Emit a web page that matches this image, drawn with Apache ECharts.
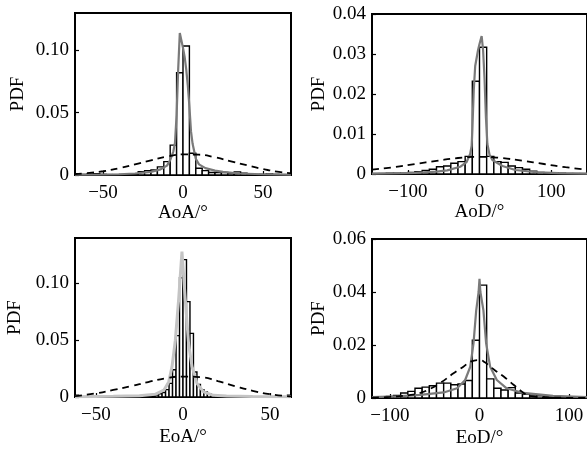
<!DOCTYPE html>
<html>
<head>
<meta charset="utf-8">
<script src="https://cdn.jsdelivr.net/npm/echarts@6/dist/echarts.min.js"></script>
<style>
html,body{margin:0;padding:0;background:#fff;}
#c{width:587px;height:450px;}
</style>
</head>
<body>
<div id="c"></div>
<script>
// ---------- AoA ----------
const aoaBinStart = -68, aoaBinWidth = 4;
const aoaPdf = [0, 0.0005, 0.0008, 0.001, 0.0005, 0.0003, 0.0003, 0.0003, 0.0005, 0.001, 0.0027, 0.0035, 0.004, 0.0065, 0.0107, 0.024, 0.082, 0.1035, 0.0175, 0.0054, 0.0035, 0.002, 0.002, 0.002, 0.0015, 0.0025, 0.0015, 0.0005, 0.0003, 0.0005, 0.0008, 0.0005, 0.0003, 0];
const aoaFitX = [-67.5,-50,-40,-30,-20,-14,-10,-8,-6,-5,-4,-3,-2,-1,0,1,2,3,4,5,6,8,10,14,20,25,35,50,67.5];
const aoaFitY = [0.0002,0.0004,0.0006,0.0012,0.0025,0.0045,0.0075,0.012,0.019,0.026,0.048,0.085,0.114,0.108,0.102,0.095,0.085,0.072,0.055,0.035,0.025,0.013,0.0085,0.0055,0.0035,0.0025,0.0012,0.0006,0.0003];
const aoaGaussX = [-67.5,-60,-50,-40,-30,-20,-10,0,10,20,30,40,50,60,67.5];
const aoaGaussY = [0.0008,0.0015,0.003,0.0055,0.0085,0.0118,0.0148,0.0165,0.0163,0.0142,0.011,0.0078,0.0048,0.0025,0.0014];
const aoaXTicks = [-50, 0, 50];
const aoaYTicks = [0, 0.05, 0.10];

// ---------- AoD ----------
const aodBinStart = -150, aodBinWidth = 10;
const aodPdf = [0.0001, 0.0001, 0.0002, 0.0002, 0.0003, 0.0004, 0.0006, 0.0009, 0.0012, 0.0018, 0.002, 0.0027, 0.0031, 0.0044, 0.0232, 0.0317, 0.0044, 0.0031, 0.0029, 0.002, 0.0016, 0.0012, 0.0007, 0.0004, 0.0003, 0.0002, 0.0002, 0.0001, 0.0001, 0.0001];
const aodFitX = [-150,-110,-90,-60,-45,-27,-18,-13,-11,-10,-8,-6,-4,-2,0,3,5,7,9,11,14,18,32,50,82,110,150];
const aodFitY = [0.0001,0.0002,0.0003,0.0006,0.0009,0.0018,0.003,0.005,0.007,0.011,0.021,0.027,0.029,0.031,0.0325,0.0345,0.031,0.024,0.014,0.0075,0.0048,0.0035,0.002,0.001,0.0004,0.0002,0.0001];
const aodGaussX = [-150,-120,-90,-60,-30,0,30,60,90,120,150];
const aodGaussY = [0.0011,0.0017,0.0025,0.0033,0.004,0.0043,0.004,0.0033,0.0025,0.0017,0.0011];
const aodXTicks = [-100, 0, 100];
const aodYTicks = [0, 0.01, 0.02, 0.03, 0.04];

// ---------- EoA ----------
const eoaBinStart = -62, eoaBinWidth = 2;
const eoaPdf = [0.0015, 0, 0, 0, 0, 0, 0, 0, 0, 0, 0, 0, 0, 0, 0, 0, 0, 0, 0, 0, 0.0003, 0.0005, 0.001, 0.0018, 0.0028, 0.004, 0.0065, 0.012, 0.024, 0.054, 0.105, 0.121, 0.084, 0.056, 0.022, 0.011, 0.0065, 0.0045, 0.003, 0.002, 0.0015, 0.001, 0.0006, 0.0003, 0, 0, 0, 0, 0, 0, 0, 0, 0, 0, 0, 0, 0, 0, 0, 0, 0, 0.0015];
const eoaFitX = [-62,-40,-25,-16,-11,-8.2,-6.3,-4.4,-2.5,-0.6,1.3,3.2,5.2,8,11.8,17.5,25,40,62];
const eoaFitY = [0.0003,0.0006,0.0012,0.0024,0.006,0.0133,0.0267,0.05,0.086,0.128,0.086,0.047,0.0267,0.012,0.0045,0.0015,0.0008,0.0004,0.0002];
const eoaGaussX = [-62,-50,-40,-30,-20,-10,0,10,20,30,40,50,62];
const eoaGaussY = [0.0008,0.0032,0.0062,0.0095,0.0132,0.0165,0.018,0.0175,0.014,0.0095,0.0055,0.0025,0.0006];
const eoaXTicks = [-50, 0, 50];
const eoaYTicks = [0, 0.05, 0.10];

// ---------- EoD ----------
const eodBinStart = -120, eodBinWidth = 8;
const eodPdf = [0.0002, 0.0004, 0.0006, 0.001, 0.0019, 0.0025, 0.0037, 0.0041, 0.0046, 0.0056, 0.0056, 0.005, 0.0053, 0.0066, 0.0218, 0.0426, 0.0072, 0.0037, 0.003, 0.0039, 0.0019, 0.0015, 0.0011, 0.0008, 0.0004, 0.0003, 0.0002, 0.0001, 0.0001, 0.0001];
const eodFitX = [-120,-92,-66,-40,-25,-16,-10.3,-6.7,-3.7,-1,0,1,4.4,7.4,11.9,19.3,30,48.9,82,120];
const eodFitY = [0.0003,0.0006,0.0012,0.0021,0.0037,0.0068,0.0118,0.0206,0.033,0.04,0.045,0.04,0.033,0.0206,0.0118,0.0068,0.0037,0.0019,0.0008,0.0003];
const eodGaussX = [-120,-100,-80,-66,-55,-44,-29,-18,-10,0,6,12,20,27,38,47,53,60,75,120];
const eodGaussY = [0.0001,0.0004,0.001,0.0019,0.0035,0.0056,0.0093,0.0118,0.0137,0.0143,0.0135,0.0118,0.0098,0.0081,0.005,0.0025,0.0012,0.0005,0.0002,0];
const eodXTicks = [-100, 0, 100];
const eodYTicks = [0, 0.02, 0.04, 0.06];

const FONT = '"Liberation Serif", "Times New Roman", serif';
const panels = [
  {name:'AoA/°', start:aoaBinStart, w:aoaBinWidth, pdf:aoaPdf, fx:aoaFitX, fy:aoaFitY, gx:aoaGaussX, gy:aoaGaussY, xt:aoaXTicks, yt:aoaYTicks,
   xmin:-67.5, xmax:67.5, ymax:0.13, grid:{left:75, top:13, width:216, height:162}, fitColor:'#7a7a7a', fitWidth:2.2, yGap:47, xGap:25},
  {name:'AoD/°', start:aodBinStart, w:aodBinWidth, pdf:aodPdf, fx:aodFitX, fy:aodFitY, gx:aodGaussX, gy:aodGaussY, xt:aodXTicks, yt:aodYTicks,
   xmin:-150, xmax:150, ymax:0.04, grid:{left:372, top:14, width:219, height:160}, fitColor:'#7a7a7a', fitWidth:2.2, yGap:40, xGap:25},
  {name:'EoA/°', start:eoaBinStart, w:eoaBinWidth, pdf:eoaPdf, fx:eoaFitX, fy:eoaFitY, gx:eoaGaussX, gy:eoaGaussY, xt:eoaXTicks, yt:eoaYTicks,
   xmin:-62, xmax:62, ymax:0.14, grid:{left:75, top:238, width:216, height:159}, fitColor:'#c4c4c4', fitWidth:3, yGap:50, xGap:31},
  {name:'EoD/°', start:eodBinStart, w:eodBinWidth, pdf:eodPdf, fx:eodFitX, fy:eodFitY, gx:eodGaussX, gy:eodGaussY, xt:eodXTicks, yt:eodYTicks,
   xmin:-120, xmax:120, ymax:0.06, grid:{left:372, top:239, width:216, height:159}, fitColor:'#7a7a7a', fitWidth:2.2, yGap:40, xGap:31}
];

const fmtX = v => v < 0 ? '\u2212' + (-v) : String(v);
const fmtY = v => v === 0 ? '0' : v.toFixed(2);

const grids = [], xAxes = [], yAxes = [], series = [];
panels.forEach((p, i) => {
  grids.push(Object.assign({show:true, borderColor:'#000', borderWidth:2, backgroundColor:'transparent', containLabel:false}, p.grid));
  xAxes.push({
    gridIndex:i, type:'value', min:p.xmin, max:p.xmax,
    axisLine:{show:true, onZero:false, lineStyle:{color:'#000', width:2}},
    axisTick:{show:true, inside:true, length:4, customValues:p.xt, lineStyle:{color:'#000', width:1.2}},
    axisLabel:{customValues:p.xt, formatter:fmtX, color:'#000', fontFamily:FONT, fontSize:19, margin:9},
    splitLine:{show:false},
    name:p.name, nameLocation:'middle', nameGap:p.xGap,
    nameTextStyle:{color:'#000', fontFamily:FONT, fontSize:19}
  });
  yAxes.push({
    gridIndex:i, type:'value', min:0, max:p.ymax,
    axisLine:{show:true, onZero:false, lineStyle:{color:'#000', width:2}},
    axisTick:{show:true, inside:true, length:4, customValues:p.yt, lineStyle:{color:'#000', width:1.2}},
    axisLabel:{customValues:p.yt, formatter:fmtY, color:'#000', fontFamily:FONT, fontSize:19, margin:6},
    splitLine:{show:false},
    name:'PDF', nameLocation:'middle', nameGap:p.yGap,
    nameTextStyle:{color:'#000', fontFamily:FONT, fontSize:19}
  });
  const bins = [];
  p.pdf.forEach((v, k) => {
    if (v > 0) {
      const x0 = Math.max(p.start + k * p.w, p.xmin);
      const x1 = Math.min(p.start + (k + 1) * p.w, p.xmax);
      bins.push([x0, x1, v]);
    }
  });
  series.push({
    type:'custom', xAxisIndex:i, yAxisIndex:i, z:2, clip:true, silent:true,
    data:bins,
    renderItem:(params, api) => {
      const a = api.coord([api.value(0), 0]);
      const b = api.coord([api.value(1), api.value(2)]);
      return {type:'rect', shape:{x:a[0], y:b[1], width:b[0]-a[0], height:a[1]-b[1]},
        style:{fill:'#fff', stroke:'#000', lineWidth:1.4}};
    }
  });
  series.push({
    type:'line', xAxisIndex:i, yAxisIndex:i, z:3, symbol:'none', smooth:false, silent:true,
    data:p.fx.map((x, k) => [x, p.fy[k]]),
    lineStyle:{color:p.fitColor, width:p.fitWidth}
  });
  series.push({
    type:'line', xAxisIndex:i, yAxisIndex:i, z:4, symbol:'none', smooth:true, silent:true,
    data:p.gx.map((x, k) => [x, p.gy[k]]),
    lineStyle:{color:'#000', width:1.8, type:[7,5]}
  });
});

const chart = echarts.init(document.getElementById('c'), null, {renderer:'canvas'});
chart.setOption({animation:false, backgroundColor:'#fff', grid:grids, xAxis:xAxes, yAxis:yAxes, series:series});
</script>
</body>
</html>
